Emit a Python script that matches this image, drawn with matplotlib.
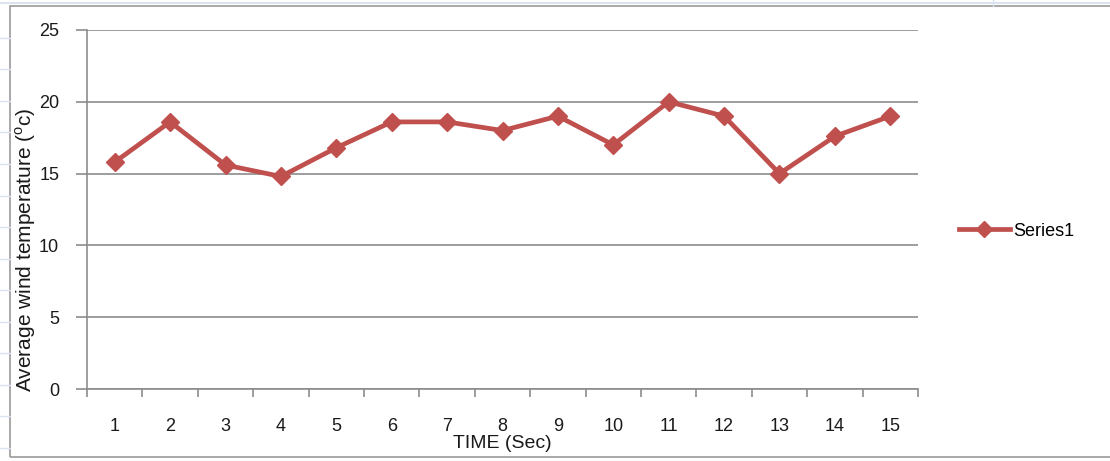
import matplotlib
matplotlib.use("Agg")
import matplotlib.pyplot as plt
from matplotlib.patches import Rectangle
import numpy as np

# ==========================================
# DATA
# ==========================================
time_sec = list(range(1, 16))
avg_temp = [15.8, 18.6, 15.6, 14.8, 16.8, 18.6, 18.6, 18.0, 19.0, 17.0, 20.0, 19.0, 15.0, 17.6, 19.0]
y_ticks = [0, 5, 10, 15, 20, 25]

LINE_COLOR = '#C0504D'
GRID_COLOR = '#8C8C8C'
TEXT_COLOR = '#1A1A1A'

plt.rcParams['font.family'] = ['Liberation Sans', 'DejaVu Sans']
plt.rcParams['mathtext.fontset'] = 'custom'
plt.rcParams['mathtext.rm'] = 'Liberation Sans'

fig = plt.figure(figsize=(11.1, 4.61), dpi=100)

# spreadsheet cell lines behind the chart object
for yy in np.arange(38, 461, 31.5):
    fig.add_artist(plt.Line2D([0, 10 / 1110], [1 - yy / 461] * 2, color='#DCE3F0', lw=1))
fig.add_artist(plt.Line2D([0, 1], [1 - 3 / 461] * 2, color='#DCE3F0', lw=1.5))
fig.add_artist(plt.Line2D([993 / 1110] * 2, [1 - 6 / 461, 1], color='#DCE3F0', lw=1))

# chart object border
fig.add_artist(Rectangle((10 / 1110, 1 - 457 / 461), 1.2, (457 - 6) / 461,
                         transform=fig.transFigure, fill=False, ec='#9A9A9A', lw=1.2))

ax = fig.add_axes([87 / 1110, 72 / 461, (918 - 87) / 1110, (389 - 30) / 461])

ax.plot(time_sec, avg_temp, color=LINE_COLOR, lw=3.4, marker='D', markersize=9.5,
        label='Series1', zorder=3)

ax.set_xlim(0.5, 15.5)
ax.set_ylim(0, 25)
ax.set_yticks(y_ticks)
ax.grid(axis='y', color=GRID_COLOR, lw=1.2)
ax.set_axisbelow(True)

# category ticks sit between points, labels under each point
ax.set_xticks(np.arange(0.5, 16, 1))
ax.set_xticklabels([])
ax.set_xticks(time_sec, minor=True)
ax.set_xticklabels([str(t) for t in time_sec], minor=True)
ax.tick_params(axis='x', which='major', length=6, color=GRID_COLOR, width=1.2)
ax.tick_params(axis='x', which='minor', length=0, pad=21, labelsize=13, labelcolor=TEXT_COLOR)
ax.tick_params(axis='y', length=8, color=GRID_COLOR, width=1.2, pad=12,
               labelsize=13, labelcolor=TEXT_COLOR)

for side in ['top', 'right']:
    ax.spines[side].set_visible(False)
for side in ['left', 'bottom']:
    ax.spines[side].set_color(GRID_COLOR)
    ax.spines[side].set_linewidth(1.2)

ax.set_xlabel('TIME (Sec)', fontsize=14, color=TEXT_COLOR, labelpad=0)
fig.text(26 / 1110, 1 - 250 / 461, r'Average wind temperature ($^{\mathrm{o}}$c)', rotation=90,
         ha='center', va='center', fontsize=15, color=TEXT_COLOR)

ax.legend(loc='center left', bbox_to_anchor=(1.03, 0.44), frameon=False,
          fontsize=13, handlelength=2.8, handletextpad=0.2, markerscale=0.85)

fig.savefig('out.png', dpi=100)
